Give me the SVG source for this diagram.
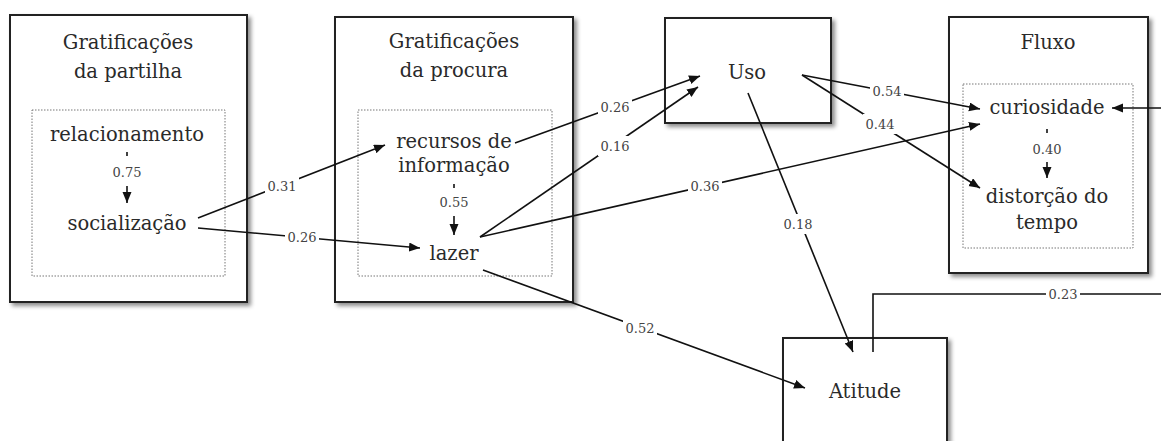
<svg xmlns="http://www.w3.org/2000/svg" width="1161" height="441" viewBox="0 0 1161 441">
<defs>
<filter id="sh" x="-10%" y="-10%" width="130%" height="130%">
<feDropShadow dx="3" dy="3" stdDeviation="2" flood-color="#000" flood-opacity="0.45"/>
</filter>
<marker id="ah" markerUnits="userSpaceOnUse" markerWidth="12" markerHeight="10" refX="11" refY="4.5" orient="auto">
<path d="M0,0 L11,4.5 L0,9 z" fill="#111"/>
</marker>
</defs>
<style>
.box{fill:#fff;stroke:#222;stroke-width:2;filter:url(#sh)}
.inner{fill:none;stroke:#777;stroke-width:1;stroke-dasharray:1.5 1.5}
text{font-family:"DejaVu Serif", serif}
.t{font-size:19.5px;fill:#2a2a2a;text-anchor:middle}
.c{stroke:#111;stroke-width:1.6;fill:none}
.a{marker-end:url(#ah)}
.lb{fill:#fff}
.lt{font-size:13px;fill:#444;text-anchor:middle}
</style>
<rect width="1161" height="441" fill="#fff"/>

<g id="partilha">
<rect class="box" x="10" y="15" width="237" height="287"/>
<rect class="inner" x="32" y="110" width="193" height="166"/>
<text class="t" x="128" y="49">Gratificações</text>
<text class="t" x="128" y="78">da partilha</text>
<text class="t" x="127" y="141">relacionamento</text>
<text class="t" x="127" y="230">socialização</text>
<line class="c a" x1="127" y1="152" x2="127" y2="203"/>
<rect class="lb" x="110" y="156" width="34" height="30"/>
<text class="lt" x="127" y="177">0.75</text>
</g>

<g id="procura">
<rect class="box" x="335" y="17" width="238" height="285"/>
<rect class="inner" x="358" y="110" width="194" height="166"/>
<text class="t" x="454" y="48">Gratificações</text>
<text class="t" x="454" y="77">da procura</text>
<text class="t" x="454" y="148">recursos de</text>
<text class="t" x="454" y="172">informação</text>
<text class="t" x="454" y="260">lazer</text>
<line class="c a" x1="454" y1="184" x2="454" y2="235"/>
<rect class="lb" x="437" y="188" width="34" height="28"/>
<text class="lt" x="454" y="207">0.55</text>
</g>

<g id="uso">
<rect class="box" x="665" y="18" width="166" height="105"/>
<text class="t" x="747" y="79">Uso</text>
</g>

<g id="fluxo">
<rect class="box" x="949" y="17" width="199" height="256"/>
<rect class="inner" x="963" y="84" width="170" height="164"/>
<text class="t" x="1048" y="49">Fluxo</text>
<text class="t" x="1047" y="114">curiosidade</text>
<text class="t" x="1047" y="203">distorção do</text>
<text class="t" x="1047" y="229">tempo</text>
<line class="c a" x1="1047" y1="129" x2="1047" y2="178"/>
<rect class="lb" x="1030" y="133" width="34" height="29"/>
<text class="lt" x="1047" y="154">0.40</text>
</g>

<g id="atitude">
<rect class="box" x="783" y="338" width="164" height="112"/>
<text class="t" x="865" y="398">Atitude</text>
</g>

<g id="connectors">
<line class="c a" x1="198" y1="218" x2="385" y2="145"/>
<line class="c a" x1="198" y1="228" x2="420" y2="248"/>
<line class="c a" x1="515" y1="143" x2="700" y2="76"/>
<line class="c a" x1="480" y1="237" x2="698" y2="87"/>
<line class="c a" x1="480" y1="237" x2="980" y2="124"/>
<line class="c a" x1="483" y1="270" x2="805" y2="388"/>
<line class="c a" x1="748" y1="93" x2="853" y2="352"/>
<line class="c a" x1="802" y1="75" x2="980" y2="109"/>
<line class="c a" x1="802" y1="75" x2="980" y2="188"/>
<line class="c a" x1="1161" y1="108" x2="1112" y2="108"/>
<polyline class="c" points="873,352 873,294 1161,294"/>

<g>
<rect class="lb" x="265" y="176" width="34" height="20"/><text class="lt" x="282" y="191">0.31</text>
<rect class="lb" x="285" y="227" width="34" height="20"/><text class="lt" x="302" y="242">0.26</text>
<rect class="lb" x="598" y="97" width="34" height="20"/><text class="lt" x="615" y="112">0.26</text>
<rect class="lb" x="598" y="136" width="34" height="20"/><text class="lt" x="615" y="151">0.16</text>
<rect class="lb" x="688" y="176" width="34" height="20"/><text class="lt" x="705" y="191">0.36</text>
<rect class="lb" x="781" y="214" width="34" height="20"/><text class="lt" x="798" y="229">0.18</text>
<rect class="lb" x="623" y="318" width="34" height="20"/><text class="lt" x="640" y="333">0.52</text>
<rect class="lb" x="870" y="81" width="34" height="20"/><text class="lt" x="887" y="96">0.54</text>
<rect class="lb" x="863" y="114" width="34" height="20"/><text class="lt" x="880" y="129">0.44</text>
<rect class="lb" x="1046" y="284" width="34" height="20"/><text class="lt" x="1063" y="299">0.23</text>
</g>
</g>
</svg>
